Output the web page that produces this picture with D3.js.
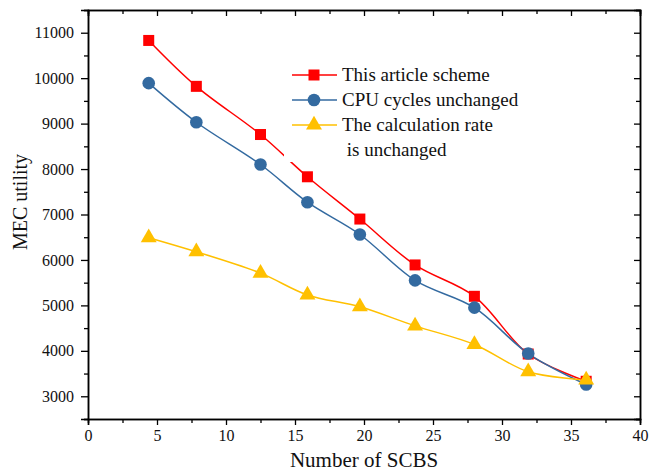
<!DOCTYPE html>
<html>
<head>
<meta charset="utf-8">
<script src="https://cdn.jsdelivr.net/npm/d3@7"></script>
<style>
  html, body { margin: 0; padding: 0; background: #fff; }
  svg { display: block; font-family: "Liberation Serif", "Times New Roman", serif; }
</style>
</head>
<body>
<svg id="chart" width="657" height="472"></svg>
<script>
// chart data
const scbs = [4.4, 7.85, 12.5, 15.9, 19.7, 23.7, 28, 31.9, 36.1];
const articleScheme = [10830, 9820, 8760, 7830, 6900, 5890, 5200, 3930, 3330];
const cpuUnchanged = [9890, 9030, 8100, 7270, 6560, 5550, 4950, 3940, 3260];
const rateUnchanged = [6490, 6180, 5710, 5230, 4970, 4550, 4140, 3540, 3360];
const xTicks = [0, 5, 10, 15, 20, 25, 30, 35, 40];
const yTicks = [3000, 4000, 5000, 6000, 7000, 8000, 9000, 10000, 11000];

const series = [
  { name: ['This article scheme'], values: articleScheme, color: '#ff0000', shape: 'square' },
  { name: ['CPU cycles unchanged'], values: cpuUnchanged, color: '#336aa0', shape: 'circle' },
  { name: ['The calculation rate', ' is unchanged'], values: rateUnchanged, color: '#ffc000', shape: 'triangle' }
];

const margin = { top: 10, right: 17, bottom: 53, left: 88 };
const width = 657 - margin.left - margin.right;
const height = 472 - margin.top - margin.bottom;

const svg = d3.select('#chart');
const g = svg.append('g').attr('transform', `translate(${margin.left},${margin.top})`);

const x = d3.scaleLinear().domain([0, 40]).range([0, width]);
const y = d3.scaleLinear().domain([2500, 11500]).range([height, 0]);

const xMinor = d3.range(2.5, 40, 5);
const yMinor = d3.range(2500, 11501, 1000);

// minor ticks
g.append('g').attr('transform', `translate(0,${height})`)
  .call(d3.axisBottom(x).tickValues(xMinor).tickSize(4).tickFormat(''));
g.append('g')
  .call(d3.axisLeft(y).tickValues(yMinor).tickSize(4).tickFormat(''));
g.append('g')
  .call(d3.axisTop(x).tickValues(xMinor).tickSize(-4).tickFormat(''));
g.append('g').attr('transform', `translate(${width},0)`)
  .call(d3.axisRight(y).tickValues(yMinor).tickSize(-4).tickFormat(''));

// major ticks
const xAxis = g.append('g').attr('transform', `translate(0,${height})`)
  .call(d3.axisBottom(x).tickValues(xTicks).tickSize(6).tickPadding(5));
const yAxis = g.append('g')
  .call(d3.axisLeft(y).tickValues(yTicks).tickSize(7).tickPadding(7).tickFormat(d3.format('d')));
g.append('g')
  .call(d3.axisTop(x).tickValues(xTicks).tickSize(-6).tickFormat(''));
g.append('g').attr('transform', `translate(${width},0)`)
  .call(d3.axisRight(y).tickValues(yTicks).tickSize(-6).tickFormat(''));

g.selectAll('.domain').attr('stroke', '#000').attr('stroke-width', 1.5);
g.selectAll('.tick line').attr('stroke', '#000').attr('stroke-width', 1.3);
g.selectAll('.tick text').attr('font-family', '"Liberation Serif", serif')
  .attr('font-size', 16).attr('fill', '#111');

// lines
const line = d3.line()
  .x((d, i) => x(scbs[i]))
  .y(d => y(d))
  .curve(d3.curveCatmullRom.alpha(0.5));

series.forEach(s => {
  g.append('path')
    .datum(s.values)
    .attr('fill', 'none')
    .attr('stroke', s.color)
    .attr('stroke-width', 1.5)
    .attr('d', line);
});

function drawMarker(sel, shape, color) {
  if (shape === 'square') {
    sel.append('rect').attr('x', -5.5).attr('y', -5.5).attr('width', 11).attr('height', 11).attr('fill', color);
  } else if (shape === 'circle') {
    sel.append('circle').attr('r', 6.3).attr('fill', color);
  } else {
    sel.append('path').attr('d', d3.symbol(d3.symbolTriangle, 110)()).attr('fill', color);
  }
}

series.forEach(s => {
  g.append('g').selectAll('g')
    .data(s.values)
    .join('g')
    .attr('transform', (d, i) => `translate(${x(scbs[i])},${y(d)})`)
    .each(function() { drawMarker(d3.select(this), s.shape, s.color); });
});

// legend
const legend = svg.append('g');
legend.append('rect')
  .attr('x', 284).attr('y', 58).attr('width', 250).attr('height', 104)
  .attr('fill', '#fff');
series.forEach((s, i) => {
  const ly = 75 + i * 25;
  const row = legend.append('g');
  row.append('line').attr('x1', 292).attr('x2', 337).attr('y1', ly).attr('y2', ly)
    .attr('stroke', s.color).attr('stroke-width', 1.5);
  drawMarker(row.append('g').attr('transform', `translate(314,${ly})`), s.shape, s.color);
  s.name.forEach((t, k) => {
    row.append('text')
      .attr('x', 342).attr('y', ly + 6 + k * 25)
      .attr('font-size', 19).attr('fill', '#111')
      .attr('xml:space', 'preserve')
      .style('white-space', 'pre')
      .text(t);
  });
});

// axis titles
svg.append('text')
  .attr('x', margin.left + x(20)).attr('y', 467)
  .attr('text-anchor', 'middle').attr('font-size', 21).attr('fill', '#111')
  .text('Number of SCBS');
svg.append('text')
  .attr('transform', 'translate(27,202) rotate(-90)')
  .attr('text-anchor', 'middle').attr('font-size', 20).attr('fill', '#111')
  .text('MEC utility');
</script>
</body>
</html>
